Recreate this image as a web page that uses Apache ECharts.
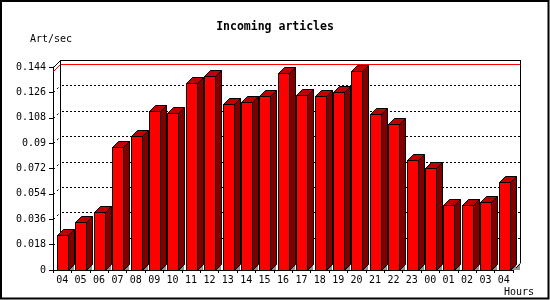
<!DOCTYPE html>
<html>
<head>
<meta charset="utf-8">
<script src="https://cdn.jsdelivr.net/npm/echarts@6/dist/echarts.min.js"></script>
<style>
html,body{margin:0;padding:0;background:#fff;}
#chart{width:550px;height:300px;}
</style>
</head>
<body>
<div id="chart"></div>
<script>
const hours = ['04','05','06','07','08','09','10','11','12','13','14','15','16','17','18','19','20','21','22','23','00','01','02','03','04'];
const artPerSec = [0.0246,0.0338,0.0409,0.087,0.095,0.1128,0.1113,0.1324,0.1374,0.1175,0.119,0.1232,0.1397,0.1241,0.1232,0.126,0.1411,0.1104,0.1033,0.0778,0.0723,0.0459,0.0459,0.048,0.0622];
const yTickLabels = ['0','0.018','0.036','0.054','0.072','0.09','0.108','0.126','0.144'];
const yTickValues = [0,0.018,0.036,0.054,0.072,0.09,0.108,0.126,0.144];

const FONT = 'DejaVu Sans Mono';
const WALL = 7;   // depth of the back wall
const DEPTH = 6;  // depth of each bar
const p = v => Math.round(v) + 0.5;

const chart = echarts.init(document.getElementById('chart'), null, {renderer: 'canvas'});
const maxVal = Math.max(...artPerSec);

function renderWalls(params, api) {
  const cs = params.coordSys;
  const x0 = Math.round(cs.x), x1 = Math.round(cs.x + cs.width);
  const yt = Math.round(cs.y), yb = Math.round(cs.y + cs.height);
  const ch = [];
  const line = (a, b, c, d, style) => ch.push({type:'line', shape:{x1:a, y1:b, x2:c, y2:d}, style: Object.assign({stroke:'#000', lineWidth:1}, style)});
  // dotted grid on back wall and side wall
  for (let k = 1; k < yTickValues.length - 1; k++) {
    const y = Math.round(api.coord([0, yTickValues[k]])[1]);
    line(x0 + WALL + 2, p(y - WALL), x1 + WALL, p(y - WALL), {lineDash:[2,2]});
    line(x0 + 0.5, y + 0.5, x0 + WALL + 0.5, y - WALL + 0.5, {lineDash:[2,3]});
  }
  // max line
  const ym = Math.round(api.coord([0, maxVal])[1]);
  line(x0 + 0.5, ym + 0.5, x0 + WALL + 0.5, ym - WALL + 0.5, {stroke:'#ff0000'});
  line(x0 + WALL, p(ym - WALL), x1 + WALL, p(ym - WALL), {stroke:'#ff0000'});
  // back wall frame
  line(p(x0 + WALL), yt - WALL, p(x0 + WALL), yb - WALL, {});
  line(x0 + WALL, p(yt - WALL), x1 + WALL + 1, p(yt - WALL), {});
  line(p(x1 + WALL), yt - WALL, p(x1 + WALL), yb - WALL, {});
  line(x0 + 0.5, yt + 0.5, x0 + WALL + 0.5, yt - WALL + 0.5, {});
  return {type:'group', children: ch};
}

function renderFloorEdge(params, api) {
  const cs = params.coordSys;
  const x1 = Math.round(cs.x + cs.width);
  const yb = Math.round(cs.y + cs.height);
  return {type:'group', children:[
    {type:'polygon', shape:{points:[[x1, yb],[x1 + WALL, yb - WALL],[x1 + WALL, yb]]}, style:{fill:'#909090'}},
    {type:'line', shape:{x1:x1 + 0.5, y1:yb + 0.5, x2:x1 + WALL + 0.5, y2:yb - WALL + 0.5}, style:{stroke:'#000', lineWidth:1}}
  ]};
}

function renderBar(params, api) {
  const i = api.value(0), v = api.value(1);
  const top = api.coord([i, v]);
  const base = api.coord([i, 0]);
  const band = api.size([1, 0])[0];
  const start = base[0] - band / 2;
  const xl = Math.round(start + band * 0.22);
  const xr = xl + Math.round(band * 0.6);
  const yt = Math.round(top[1]);
  const yb = Math.round(base[1]);
  const d = DEPTH;
  const s = {stroke:'#000', lineWidth:1};
  return {type:'group', children:[
    {type:'polygon', shape:{points:[[xr, yb],[xr + d, yb - d],[xr + d, yb]]}, style:{fill:'#909090'}},
    {type:'polygon', shape:{points:[[xr + .5, yt + .5],[xr + d + .5, yt - d + .5],[xr + d + .5, yb - d + .5],[xr + .5, yb + .5]]}, style:Object.assign({fill:'#800000'}, s)},
    {type:'polygon', shape:{points:[[xl + .5, yt + .5],[xl + d + .5, yt - d + .5],[xr + d + .5, yt - d + .5],[xr + .5, yt + .5]]}, style:Object.assign({fill:'#c00000'}, s)},
    {type:'rect', shape:{x:xl + .5, y:yt + .5, width:xr - xl, height:yb - yt}, style:Object.assign({fill:'#ff0000'}, s)}
  ]};
}

chart.setOption({
  animation: false,
  backgroundColor: '#fff',
  grid: {left: 53, right: 37, top: 67, bottom: 30, containLabel: false, outerBoundsMode: 'none'},
  xAxis: {
    type: 'category',
    data: hours,
    boundaryGap: true,
    axisLine: {show: true, lineStyle: {color: '#000', width: 1}},
    axisTick: {show: true, interval: 0, length: 3, lineStyle: {color: '#000'}},
    axisLabel: {interval: 0, color: '#000', fontFamily: FONT, fontSize: 10, margin: 5},
    splitLine: {show: false}
  },
  yAxis: {
    type: 'value',
    min: 0, max: 0.144, interval: 0.018,
    axisLine: {show: true, lineStyle: {color: '#000', width: 1}},
    axisTick: {show: true, length: 4, lineStyle: {color: '#000'}},
    axisLabel: {color: '#000', fontFamily: FONT, fontSize: 10, margin: 7,
      formatter: (val, idx) => yTickLabels[idx] !== undefined ? yTickLabels[idx] : String(val)},
    splitLine: {show: false}
  },
  series: [
    {type: 'custom', z: 1, renderItem: renderWalls, data: [[0, 0]], silent: true},
    {type: 'custom', z: 2, renderItem: renderBar, data: artPerSec.map((v, i) => [i, v]), silent: true},
    {type: 'custom', z: 1, renderItem: renderFloorEdge, data: [[0, 0]], silent: true}
  ],
  graphic: [
    {type: 'rect', z: 10, shape: {x: 1, y: 1, width: 547.5, height: 297.5}, style: {fill: null, stroke: '#000', lineWidth: 2}},
    {type: 'text', z: 10, x: 275, y: 27, style: {text: 'Incoming articles', font: 'bold 11.5px "DejaVu Sans Mono"', fill: '#000', align: 'center', verticalAlign: 'middle'}},
    {type: 'text', z: 10, x: 30, y: 39, style: {text: 'Art/sec', font: '10px "DejaVu Sans Mono"', fill: '#000', align: 'left', verticalAlign: 'middle'}},
    {type: 'text', z: 10, x: 504, y: 292, style: {text: 'Hours', font: '10px "DejaVu Sans Mono"', fill: '#000', align: 'left', verticalAlign: 'middle'}}
  ]
});
</script>
</body>
</html>
